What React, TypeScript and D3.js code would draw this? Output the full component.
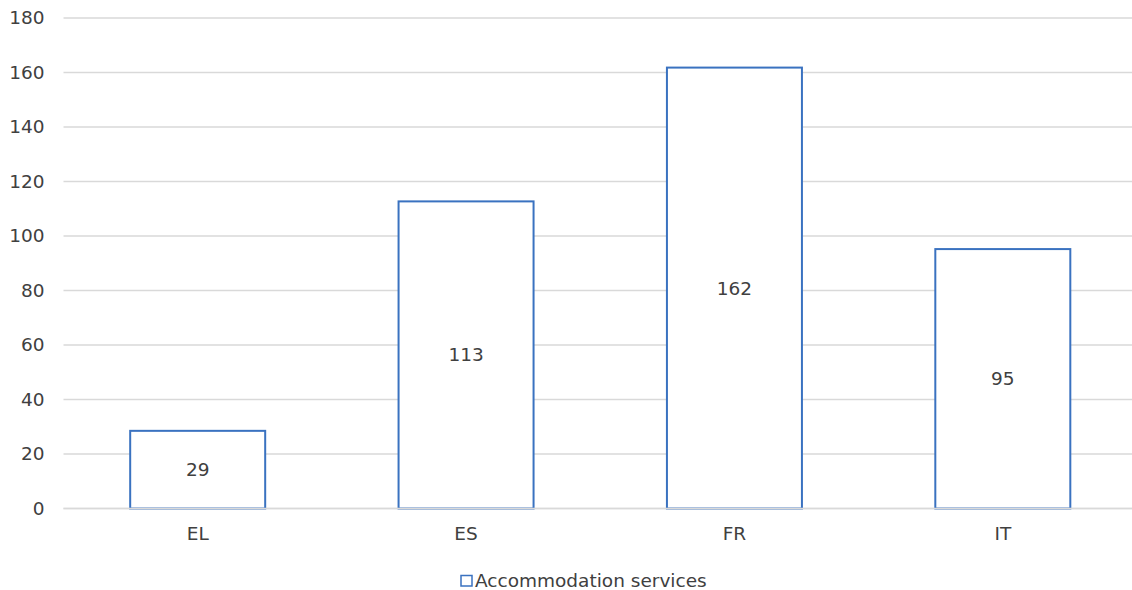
import React from "react";
import * as d3 from "d3";

const categories = ["EL", "ES", "FR", "IT"];
const values = [28.5, 112.7, 161.8, 95.2];
const yTicks = [0, 20, 40, 60, 80, 100, 120, 140, 160, 180];
const seriesName = "Accommodation services";

export default function App() {
  const W = 1132, H = 590;
  const left = 63.5, right = 1137, top = 18, bottom = 508.5;
  const x = d3.scaleBand<string>().domain(categories).range([left, right]).paddingInner(0.497).paddingOuter(0.2485);
  const y = d3.scaleLinear().domain([0, 180]).range([bottom, top]);
  const font = "'DejaVu Sans', Verdana, sans-serif";
  const txt = "#404040";
  const blue = "#3a72c0";
  const fs = 18.5;
  return (
    <svg width={W} height={H} style={{ position: "absolute", left: 0, top: 0 }} fontFamily={font}>
      <rect width={W} height={H} fill="#fff" />
      {yTicks.map((t) => (
        <g key={t}>
          <line x1={left} x2={right} y1={y(t)} y2={y(t)} stroke="#d9d9d9" strokeWidth={1.3} />
          <text x={44.5} y={y(t)} dy="0.35em" textAnchor="end" fontSize={fs} fill={txt}>{t}</text>
        </g>
      ))}
      {categories.map((c, i) => (
        <g key={c}>
          <rect x={x(c)!} y={y(values[i])} width={x.bandwidth()} height={y(0) - y(values[i])} fill="#fff" stroke={blue} strokeWidth={2} />
          <text x={x(c)! + x.bandwidth() / 2} y={(y(values[i]) + y(0)) / 2} dy="0.35em" textAnchor="middle" fontSize={fs} fill={txt}>{Math.round(values[i])}</text>
          <text x={x(c)! + x.bandwidth() / 2} y={534} dy="0.35em" textAnchor="middle" fontSize={fs} fill={txt}>{c}</text>
        </g>
      ))}
      <line x1={left} x2={right} y1={y(0)} y2={y(0)} stroke="#d9d9d9" strokeWidth={1.3} />
      <rect x={461} y={575.5} width={11} height={10.5} fill="#fff" stroke={blue} strokeWidth={1.5} />
      <text x={475} y={580.5} dy="0.35em" fontSize={fs} fill={txt}>{seriesName}</text>
    </svg>
  );
}
